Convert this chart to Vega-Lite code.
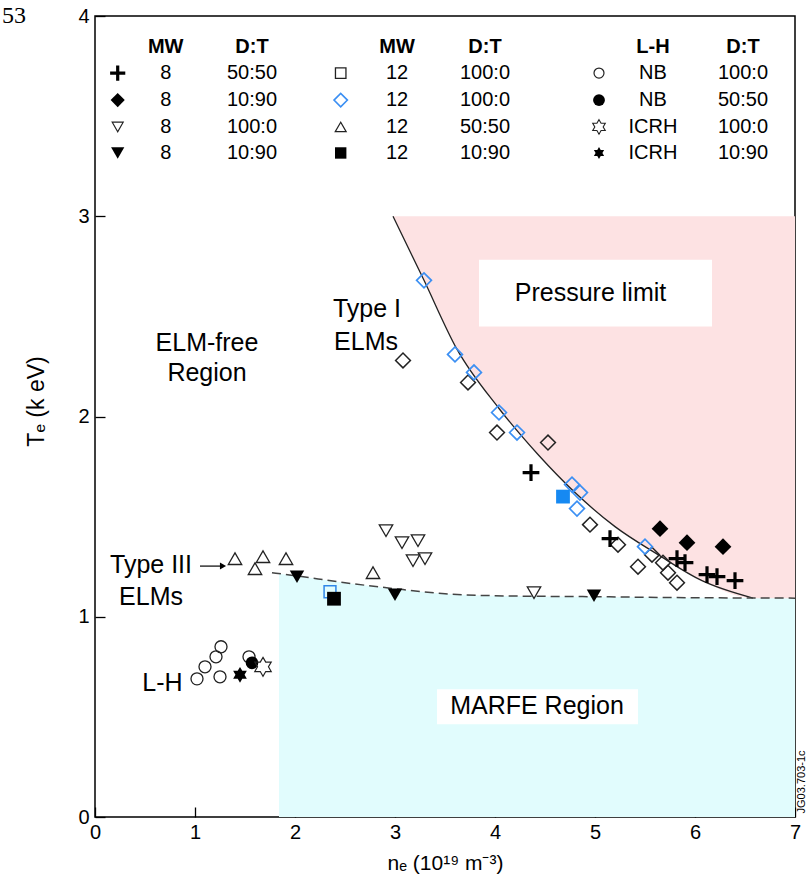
{
  "$schema": "https://vega.github.io/schema/vega-lite/v6.json",
  "width": 700,
  "height": 801,
  "autosize": {"type": "none"},
  "padding": {"left": 95, "top": 16, "right": 14, "bottom": 70},
  "background": "white",
  "config": {
    "font": "Liberation Sans",
    "view": {"stroke": "black", "strokeWidth": 1.5},
    "point": {"opacity": 1},
    "axis": {
      "grid": false,
      "domain": false,
      "zindex": 1,
      "labelFlush": false,
      "tickColor": "black",
      "tickWidth": 1.3,
      "tickSize": -10,
      "labelColor": "black",
      "labelFont": "Liberation Sans",
      "labelFontSize": 20,
      "titleColor": "black",
      "titleFont": "Liberation Sans",
      "titleFontWeight": "normal",
      "titleFontSize": 21
    }
  },
  "datasets": {
    "marfe": [
      {"x": 1.84, "y": 1.215}, {"x": 2.0, "y": 1.205}, {"x": 2.5, "y": 1.17},
      {"x": 3.0, "y": 1.14}, {"x": 3.5, "y": 1.115}, {"x": 4.0, "y": 1.105},
      {"x": 5.0, "y": 1.1}, {"x": 6.0, "y": 1.095}, {"x": 7.0, "y": 1.093}
    ],
    "type3": [
      {"x": 1.77, "y": 1.22}, {"x": 2.0, "y": 1.205}, {"x": 2.5, "y": 1.17},
      {"x": 3.0, "y": 1.14}, {"x": 3.5, "y": 1.115}, {"x": 4.0, "y": 1.105},
      {"x": 5.0, "y": 1.1}, {"x": 6.0, "y": 1.095}, {"x": 7.0, "y": 1.093}
    ],
    "limit": [
      {"x": 2.98, "y": 3.0}, {"x": 3.29, "y": 2.68}, {"x": 3.615, "y": 2.34},
      {"x": 4.04, "y": 2.04}, {"x": 4.43, "y": 1.81}, {"x": 4.8, "y": 1.62},
      {"x": 5.2, "y": 1.45}, {"x": 5.63, "y": 1.31}, {"x": 6.07, "y": 1.18},
      {"x": 6.58, "y": 1.093}, {"x": 7.0, "y": 1.093}
    ],
    "boxes": [
      {"x": 3.84, "x2": 6.17, "y": 2.449, "y2": 2.783},
      {"x": 3.42, "x2": 5.43, "y": 0.463, "y2": 0.638}
    ],
    "pts": [
      {"g": "tuo", "x": 1.40, "y": 1.29}, {"g": "tuo", "x": 1.60, "y": 1.24},
      {"g": "tuo", "x": 1.68, "y": 1.30}, {"g": "tuo", "x": 1.91, "y": 1.29},
      {"g": "tuo", "x": 2.78, "y": 1.22},
      {"g": "tdo", "x": 2.91, "y": 1.43}, {"g": "tdo", "x": 3.07, "y": 1.37},
      {"g": "tdo", "x": 3.23, "y": 1.38}, {"g": "tdo", "x": 3.18, "y": 1.28},
      {"g": "tdo", "x": 3.30, "y": 1.29}, {"g": "tdo", "x": 4.39, "y": 1.12},
      {"g": "tdf", "x": 2.02, "y": 1.20}, {"g": "tdf", "x": 3.00, "y": 1.11},
      {"g": "tdf", "x": 4.99, "y": 1.105},
      {"g": "sqob", "x": 2.35, "y": 1.125}, {"g": "sqf", "x": 2.39, "y": 1.09},
      {"g": "dopen", "x": 3.08, "y": 2.28}, {"g": "dopen", "x": 3.73, "y": 2.17},
      {"g": "dopen", "x": 4.02, "y": 1.92}, {"g": "dopen", "x": 4.53, "y": 1.87},
      {"g": "dopen", "x": 4.95, "y": 1.46}, {"g": "dopen", "x": 5.23, "y": 1.36},
      {"g": "dopen", "x": 5.43, "y": 1.25}, {"g": "dopen", "x": 5.57, "y": 1.31},
      {"g": "dopen", "x": 5.68, "y": 1.27}, {"g": "dopen", "x": 5.73, "y": 1.22},
      {"g": "dopen", "x": 5.82, "y": 1.17},
      {"g": "dblue", "x": 3.29, "y": 2.68}, {"g": "dblue", "x": 3.60, "y": 2.31},
      {"g": "dblue", "x": 3.79, "y": 2.22}, {"g": "dblue", "x": 4.04, "y": 2.02},
      {"g": "dblue", "x": 4.22, "y": 1.92}, {"g": "dblue", "x": 4.77, "y": 1.66},
      {"g": "dblue", "x": 4.85, "y": 1.62}, {"g": "dblue", "x": 4.82, "y": 1.54},
      {"g": "dblue", "x": 5.50, "y": 1.35},
      {"g": "sqfb", "x": 4.68, "y": 1.60},
      {"g": "plus", "x": 4.36, "y": 1.72}, {"g": "plus", "x": 5.15, "y": 1.39},
      {"g": "plus", "x": 5.82, "y": 1.29}, {"g": "plus", "x": 5.90, "y": 1.27},
      {"g": "plus", "x": 6.12, "y": 1.21}, {"g": "plus", "x": 6.22, "y": 1.20},
      {"g": "plus", "x": 6.40, "y": 1.18},
      {"g": "dfill", "x": 5.65, "y": 1.44}, {"g": "dfill", "x": 5.92, "y": 1.37},
      {"g": "dfill", "x": 6.28, "y": 1.35},
      {"g": "co", "x": 1.02, "y": 0.69}, {"g": "co", "x": 1.10, "y": 0.75},
      {"g": "co", "x": 1.21, "y": 0.80}, {"g": "co", "x": 1.26, "y": 0.85},
      {"g": "co", "x": 1.25, "y": 0.70}, {"g": "co", "x": 1.54, "y": 0.80},
      {"g": "cf", "x": 1.57, "y": 0.77},
      {"g": "sto", "x": 1.68, "y": 0.75},
      {"g": "stf", "x": 1.45, "y": 0.71}
    ],
    "legsym": [
      {"g": "plus", "x": 0.227, "y": 3.715}, {"g": "dfill", "x": 0.227, "y": 3.58},
      {"g": "tdo", "x": 0.227, "y": 3.446}, {"g": "tdf", "x": 0.227, "y": 3.316},
      {"g": "sqo", "x": 2.457, "y": 3.715}, {"g": "dblue", "x": 2.457, "y": 3.58},
      {"g": "tuo", "x": 2.457, "y": 3.446}, {"g": "sqf", "x": 2.457, "y": 3.316},
      {"g": "co", "x": 5.04, "y": 3.715}, {"g": "cf", "x": 5.04, "y": 3.58},
      {"g": "sto", "x": 5.04, "y": 3.446}, {"g": "stf", "x": 5.04, "y": 3.316}
    ],
    "leghead": [
      {"x": 0.707, "y": 3.845, "t": "MW"}, {"x": 1.57, "y": 3.845, "t": "D:T"},
      {"x": 3.02, "y": 3.845, "t": "MW"}, {"x": 3.90, "y": 3.845, "t": "D:T"},
      {"x": 5.58, "y": 3.845, "t": "L-H"}, {"x": 6.48, "y": 3.845, "t": "D:T"}
    ],
    "legtext": [
      {"x": 0.707, "y": 3.715, "t": "8"}, {"x": 1.57, "y": 3.715, "t": "50:50"},
      {"x": 0.707, "y": 3.58, "t": "8"}, {"x": 1.57, "y": 3.58, "t": "10:90"},
      {"x": 0.707, "y": 3.446, "t": "8"}, {"x": 1.57, "y": 3.446, "t": "100:0"},
      {"x": 0.707, "y": 3.316, "t": "8"}, {"x": 1.57, "y": 3.316, "t": "10:90"},
      {"x": 3.02, "y": 3.715, "t": "12"}, {"x": 3.90, "y": 3.715, "t": "100:0"},
      {"x": 3.02, "y": 3.58, "t": "12"}, {"x": 3.90, "y": 3.58, "t": "100:0"},
      {"x": 3.02, "y": 3.446, "t": "12"}, {"x": 3.90, "y": 3.446, "t": "50:50"},
      {"x": 3.02, "y": 3.316, "t": "12"}, {"x": 3.90, "y": 3.316, "t": "10:90"},
      {"x": 5.58, "y": 3.715, "t": "NB"}, {"x": 6.48, "y": 3.715, "t": "100:0"},
      {"x": 5.58, "y": 3.58, "t": "NB"}, {"x": 6.48, "y": 3.58, "t": "50:50"},
      {"x": 5.58, "y": 3.446, "t": "ICRH"}, {"x": 6.48, "y": 3.446, "t": "100:0"},
      {"x": 5.58, "y": 3.316, "t": "ICRH"}, {"x": 6.48, "y": 3.316, "t": "10:90"}
    ],
    "notes": [
      {"x": 1.12, "y": 2.367, "t": "ELM-free"}, {"x": 1.12, "y": 2.215, "t": "Region"},
      {"x": 2.72, "y": 2.537, "t": "Type I"}, {"x": 2.71, "y": 2.372, "t": "ELMs"},
      {"x": 4.955, "y": 2.615, "t": "Pressure limit"},
      {"x": 4.42, "y": 0.554, "t": "MARFE Region"},
      {"x": 0.56, "y": 1.258, "t": "Type III"}, {"x": 0.56, "y": 1.101, "t": "ELMs"},
      {"x": 0.675, "y": 0.669, "t": "L-H"}
    ],
    "arrow": [{"x": 1.05, "x2": 1.26, "y": 1.253}],
    "arrowhead": [{"x": 1.28, "y": 1.253}]
  },
  "encoding": {
    "x": {
      "field": "x",
      "type": "quantitative",
      "scale": {"domain": [0, 7], "nice": false, "zero": false},
      "axis": {
        "title": "nₑ (10¹⁹ m⁻³)",
        "values": [0, 1, 2, 3, 4, 5, 6, 7],
        "labelPadding": 15,
        "titlePadding": 10
      }
    },
    "y": {
      "field": "y",
      "type": "quantitative",
      "scale": {"domain": [0, 4], "nice": false, "zero": false},
      "axis": {
        "title": "Tₑ (k eV)",
        "values": [0, 1, 2, 3, 4],
        "labelPadding": 16,
        "titleX": -47,
        "titleY": 385,
        "titleFontSize": 23
      }
    }
  },
  "layer": [
    {"data": {"name": "marfe"}, "mark": {"type": "area", "color": "#e1fcfd", "interpolate": "monotone", "opacity": 1}, "encoding": {"y2": {"datum": 0}}},
    {"data": {"name": "limit"}, "mark": {"type": "area", "color": "#fde2e3", "interpolate": "monotone", "opacity": 1}, "encoding": {"y2": {"datum": 3}}},
    {"data": {"name": "boxes"}, "mark": {"type": "rect", "color": "white"}, "encoding": {"x2": {"field": "x2"}, "y2": {"field": "y2"}}},
    {"data": {"name": "limit"}, "transform": [{"filter": "datum.x <= 6.6"}], "mark": {"type": "line", "color": "#222", "strokeWidth": 1.3, "interpolate": "monotone"}, "encoding": {}},
    {"data": {"name": "type3"}, "mark": {"type": "line", "color": "#444", "strokeWidth": 1.5, "strokeDash": [9, 5], "interpolate": "monotone"}, "encoding": {}},

    {"data": {"name": "pts"}, "transform": [{"filter": "datum.g == 'tuo'"}], "mark": {"type": "point", "shape": "triangle-up", "filled": false, "color": "#222", "strokeWidth": 1.3, "size": 180}},
    {"data": {"name": "pts"}, "transform": [{"filter": "datum.g == 'tdo'"}], "mark": {"type": "point", "shape": "triangle-down", "filled": false, "color": "#222", "strokeWidth": 1.3, "size": 180}},
    {"data": {"name": "pts"}, "transform": [{"filter": "datum.g == 'tdf'"}], "mark": {"type": "point", "shape": "triangle-down", "filled": true, "color": "black", "size": 210}},
    {"data": {"name": "pts"}, "transform": [{"filter": "datum.g == 'sqob'"}], "mark": {"type": "point", "shape": "square", "filled": false, "color": "#2f86e8", "strokeWidth": 1.5, "size": 140}},
    {"data": {"name": "pts"}, "transform": [{"filter": "datum.g == 'sqf'"}], "mark": {"type": "point", "shape": "square", "filled": true, "color": "black", "size": 190}},
    {"data": {"name": "pts"}, "transform": [{"filter": "datum.g == 'dopen'"}], "mark": {"type": "point", "shape": "diamond", "filled": false, "color": "#222", "strokeWidth": 1.5, "size": 220}},
    {"data": {"name": "pts"}, "transform": [{"filter": "datum.g == 'dblue'"}], "mark": {"type": "point", "shape": "diamond", "filled": false, "color": "#3b8ff3", "strokeWidth": 1.7, "size": 220}},
    {"data": {"name": "pts"}, "transform": [{"filter": "datum.g == 'sqfb'"}], "mark": {"type": "point", "shape": "square", "filled": true, "color": "#1689f2", "size": 190}},
    {"data": {"name": "pts"}, "transform": [{"filter": "datum.g == 'plus'"}], "mark": {"type": "point", "shape": "M-1,0L1,0M0,-1L0,1", "filled": false, "color": "black", "strokeWidth": 3.2, "size": 280}},
    {"data": {"name": "pts"}, "transform": [{"filter": "datum.g == 'dfill'"}], "mark": {"type": "point", "shape": "diamond", "filled": true, "color": "black", "size": 280}},
    {"data": {"name": "pts"}, "transform": [{"filter": "datum.g == 'co'"}], "mark": {"type": "point", "shape": "circle", "filled": false, "color": "#222", "strokeWidth": 1.3, "size": 145}},
    {"data": {"name": "pts"}, "transform": [{"filter": "datum.g == 'cf'"}], "mark": {"type": "point", "shape": "circle", "filled": true, "color": "black", "size": 160}},
    {"data": {"name": "pts"}, "transform": [{"filter": "datum.g == 'sto'"}], "mark": {"type": "point", "shape": "M0,-1L0.289,-0.5L0.866,-0.5L0.577,0L0.866,0.5L0.289,0.5L0,1L-0.289,0.5L-0.866,0.5L-0.577,0L-0.866,-0.5L-0.289,-0.5Z", "filled": false, "color": "#222", "strokeWidth": 1.2, "size": 360}},
    {"data": {"name": "pts"}, "transform": [{"filter": "datum.g == 'stf'"}], "mark": {"type": "point", "shape": "M0,-1L0.289,-0.5L0.866,-0.5L0.577,0L0.866,0.5L0.289,0.5L0,1L-0.289,0.5L-0.866,0.5L-0.577,0L-0.866,-0.5L-0.289,-0.5Z", "filled": true, "color": "black", "size": 250}},

    {"data": {"name": "legsym"}, "transform": [{"filter": "datum.g == 'plus'"}], "mark": {"type": "point", "shape": "M-1,0L1,0M0,-1L0,1", "filled": false, "color": "black", "strokeWidth": 3.2, "size": 230}},
    {"data": {"name": "legsym"}, "transform": [{"filter": "datum.g == 'dfill'"}], "mark": {"type": "point", "shape": "diamond", "filled": true, "color": "black", "size": 200}},
    {"data": {"name": "legsym"}, "transform": [{"filter": "datum.g == 'tdo'"}], "mark": {"type": "point", "shape": "triangle-down", "filled": false, "color": "#222", "strokeWidth": 1.2, "size": 120}},
    {"data": {"name": "legsym"}, "transform": [{"filter": "datum.g == 'tdf'"}], "mark": {"type": "point", "shape": "triangle-down", "filled": true, "color": "black", "size": 175}},
    {"data": {"name": "legsym"}, "transform": [{"filter": "datum.g == 'sqo'"}], "mark": {"type": "point", "shape": "square", "filled": false, "color": "#222", "strokeWidth": 1.3, "size": 110}},
    {"data": {"name": "legsym"}, "transform": [{"filter": "datum.g == 'dblue'"}], "mark": {"type": "point", "shape": "diamond", "filled": false, "color": "#3b8ff3", "strokeWidth": 1.6, "size": 180}},
    {"data": {"name": "legsym"}, "transform": [{"filter": "datum.g == 'tuo'"}], "mark": {"type": "point", "shape": "triangle-up", "filled": false, "color": "#222", "strokeWidth": 1.2, "size": 120}},
    {"data": {"name": "legsym"}, "transform": [{"filter": "datum.g == 'sqf'"}], "mark": {"type": "point", "shape": "square", "filled": true, "color": "black", "size": 130}},
    {"data": {"name": "legsym"}, "transform": [{"filter": "datum.g == 'co'"}], "mark": {"type": "point", "shape": "circle", "filled": false, "color": "#222", "strokeWidth": 1.2, "size": 100}},
    {"data": {"name": "legsym"}, "transform": [{"filter": "datum.g == 'cf'"}], "mark": {"type": "point", "shape": "circle", "filled": true, "color": "black", "size": 140}},
    {"data": {"name": "legsym"}, "transform": [{"filter": "datum.g == 'sto'"}], "mark": {"type": "point", "shape": "M0,-1L0.289,-0.5L0.866,-0.5L0.577,0L0.866,0.5L0.289,0.5L0,1L-0.289,0.5L-0.866,0.5L-0.577,0L-0.866,-0.5L-0.289,-0.5Z", "filled": false, "color": "#222", "strokeWidth": 1.1, "size": 210}},
    {"data": {"name": "legsym"}, "transform": [{"filter": "datum.g == 'stf'"}], "mark": {"type": "point", "shape": "M0,-1L0.289,-0.5L0.866,-0.5L0.577,0L0.866,0.5L0.289,0.5L0,1L-0.289,0.5L-0.866,0.5L-0.577,0L-0.866,-0.5L-0.289,-0.5Z", "filled": true, "color": "black", "size": 140}},

    {"data": {"name": "leghead"}, "mark": {"type": "text", "fontSize": 20, "fontWeight": "bold", "color": "black", "baseline": "middle", "align": "center"}, "encoding": {"text": {"field": "t"}}},
    {"data": {"name": "legtext"}, "mark": {"type": "text", "fontSize": 20, "color": "black", "baseline": "middle", "align": "center"}, "encoding": {"text": {"field": "t"}}},
    {"data": {"name": "notes"}, "mark": {"type": "text", "fontSize": 25, "color": "black", "baseline": "middle", "align": "center"}, "encoding": {"text": {"field": "t"}}},
    {"data": {"name": "arrow"}, "mark": {"type": "rule", "color": "black", "strokeWidth": 1.2}, "encoding": {"x2": {"field": "x2"}}},
    {"data": {"name": "arrowhead"}, "mark": {"type": "point", "shape": "triangle-right", "filled": true, "color": "black", "size": 50}},
    {"data": {"values": [{"x": -0.93, "y": 4.0, "t": "53"}]}, "mark": {"type": "text", "fontSize": 24, "font": "Liberation Serif", "color": "black", "baseline": "middle", "align": "left"}, "encoding": {"text": {"field": "t"}}},
    {"data": {"values": [{"x": 7.065, "y": 0.175, "t": "JG03.703-1c"}]}, "mark": {"type": "text", "fontSize": 11, "color": "black", "baseline": "middle", "align": "center", "angle": 270}, "encoding": {"text": {"field": "t"}}}
  ]
}
